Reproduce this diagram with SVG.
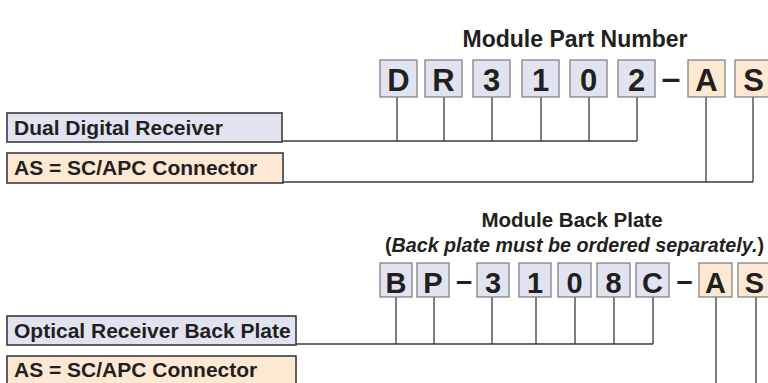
<svg xmlns="http://www.w3.org/2000/svg" width="768" height="383" viewBox="0 0 768 383">
<style>
.t{font-family:"Liberation Sans",Arial,sans-serif;font-weight:bold;fill:#231f20}
.title{font-size:23px;text-anchor:middle}
.lbl{font-size:21px}
.ch{font-size:31px;text-anchor:middle}
.ch2{font-size:29px;text-anchor:middle}
.b{fill:#e1e4f0;stroke:#7a7a7a;stroke-width:1.2}
.o{fill:#fde9d3;stroke:#7a7a7a;stroke-width:1.2}
.lb{fill:#e1e4f0;stroke:#3a3a3a;stroke-width:1.6}
.lo{fill:#fde9d3;stroke:#3a3a3a;stroke-width:1.6}
.c{fill:none;stroke:#3a3a3a;stroke-width:1.3}
</style>
<rect width="768" height="383" fill="#fff"/>

<g id="connectors">
<path class="c" d="M282 141 H637 M397 97 V141 M444 97 V141 M492 97 V141 M541 97 V141 M589 97 V141 M637 97 V141"/>
<path class="c" d="M283 182 H753 M706 97 V182 M753 97 V182"/>
<path class="c" d="M296 344 H653 M396 297 V344 M434 297 V344 M492 297 V344 M536 297 V344 M575 297 V344 M614 297 V344 M653 297 V344"/>
<path class="c" d="M716 297 V390 M756 297 V390"/>
</g>

<g id="title-part-number"><text class="t title" x="575" y="47">Module Part Number</text></g>

<g id="part-D"><rect class="b" x="380" y="60" width="37" height="37"/><text class="t ch" x="398.5" y="90.5">D</text></g>
<g id="part-R"><rect class="b" x="425" y="60" width="37" height="37"/><text class="t ch" x="443.5" y="90.5">R</text></g>
<g id="part-3"><rect class="b" x="473" y="60" width="37" height="37"/><text class="t ch" x="491.5" y="90.5">3</text></g>
<g id="part-1"><rect class="b" x="522" y="60" width="37" height="37"/><text class="t ch" x="540.5" y="90.5">1</text></g>
<g id="part-0"><rect class="b" x="570" y="60" width="37" height="37"/><text class="t ch" x="588.5" y="90.5">0</text></g>
<g id="part-2"><rect class="b" x="618" y="60" width="37" height="37"/><text class="t ch" x="636.5" y="90.5">2</text></g>
<g id="part-dash"><text class="t ch" x="671" y="89" style="font-size:34px">–</text></g>
<g id="part-A"><rect class="o" x="688" y="60" width="37" height="37"/><text class="t ch" x="706.5" y="90.5">A</text></g>
<g id="part-S"><rect class="o" x="735" y="60" width="37" height="37"/><text class="t ch" x="753.5" y="90.5">S</text></g>

<g id="label-dual"><rect class="lb" x="7" y="113" width="275" height="29"/><text class="t lbl" x="14" y="135">Dual Digital Receiver</text></g>
<g id="label-as1"><rect class="lo" x="7" y="153" width="276" height="30"/><text class="t lbl" x="14" y="175">AS = SC/APC Connector</text></g>

<g id="title-back-plate">
<text class="t title" x="572" y="227" style="font-size:20.5px">Module Back Plate</text>
<text class="t" x="385" y="252" style="font-size:19.7px">(<tspan font-style="italic">Back plate must be ordered separately.</tspan>)</text>
</g>

<g id="bp-B"><rect class="b" x="380" y="263" width="32" height="34"/><text class="t ch2" x="396" y="292.5">B</text></g>
<g id="bp-P"><rect class="b" x="417" y="263" width="32" height="34"/><text class="t ch2" x="433" y="292.5">P</text></g>
<g id="bp-dash1"><text class="t ch2" x="464" y="291">–</text></g>
<g id="bp-3"><rect class="b" x="477" y="263" width="32" height="34"/><text class="t ch2" x="493" y="292.5">3</text></g>
<g id="bp-1"><rect class="b" x="519" y="263" width="32" height="34"/><text class="t ch2" x="535" y="292.5">1</text></g>
<g id="bp-0"><rect class="b" x="558" y="263" width="33" height="34"/><text class="t ch2" x="574.5" y="292.5">0</text></g>
<g id="bp-8"><rect class="b" x="597" y="263" width="33" height="34"/><text class="t ch2" x="613.5" y="292.5">8</text></g>
<g id="bp-C"><rect class="b" x="636" y="263" width="33" height="34"/><text class="t ch2" x="652.5" y="292.5">C</text></g>
<g id="bp-dash2"><text class="t ch2" x="684.5" y="291">–</text></g>
<g id="bp-A"><rect class="o" x="699" y="263" width="33" height="34"/><text class="t ch2" x="715.5" y="292.5">A</text></g>
<g id="bp-S"><rect class="o" x="738" y="263" width="33" height="34"/><text class="t ch2" x="754.5" y="292.5">S</text></g>

<g id="label-optical"><rect class="lb" x="7" y="316" width="289" height="29"/><text class="t lbl" x="14" y="338">Optical Receiver Back Plate</text></g>
<g id="label-as2"><rect class="lo" x="7" y="356" width="289" height="32"/><text class="t lbl" x="14" y="377">AS = SC/APC Connector</text></g>
</svg>
